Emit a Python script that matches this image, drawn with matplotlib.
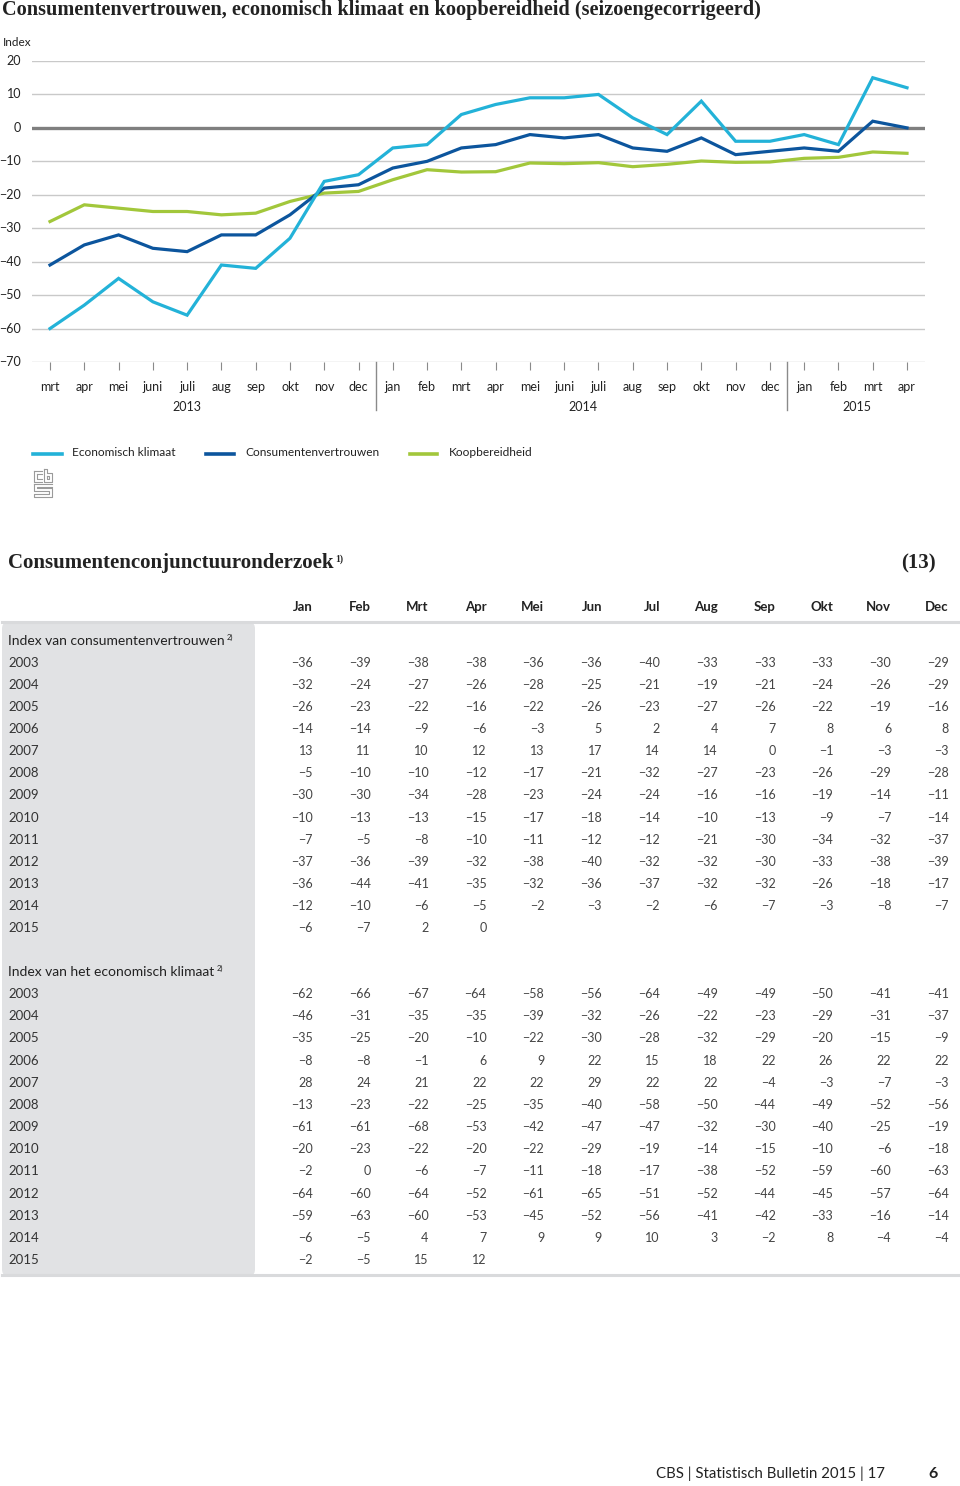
import numpy as np
import matplotlib
matplotlib.use("Agg")
import matplotlib.pyplot as plt
from matplotlib import font_manager
from matplotlib.patches import FancyBboxPatch
from matplotlib.lines import Line2D

# --- data ---------------------------------------------------------------
chart_months = ["mrt", "apr", "mei", "juni", "juli", "aug", "sep", "okt", "nov", "dec",
                "jan", "feb", "mrt", "apr", "mei", "juni", "juli", "aug", "sep", "okt", "nov", "dec",
                "jan", "feb", "mrt", "apr"]
years = ["2013", "2014", "2015"]

table_months = ["Jan", "Feb", "Mrt", "Apr", "Mei", "Jun", "Jul", "Aug", "Sep", "Okt", "Nov", "Dec"]
table_years = [str(y) for y in range(2003, 2016)]

cv_table = [
    [-36, -39, -38, -38, -36, -36, -40, -33, -33, -33, -30, -29],
    [-32, -24, -27, -26, -28, -25, -21, -19, -21, -24, -26, -29],
    [-26, -23, -22, -16, -22, -26, -23, -27, -26, -22, -19, -16],
    [-14, -14, -9, -6, -3, 5, 2, 4, 7, 8, 6, 8],
    [13, 11, 10, 12, 13, 17, 14, 14, 0, -1, -3, -3],
    [-5, -10, -10, -12, -17, -21, -32, -27, -23, -26, -29, -28],
    [-30, -30, -34, -28, -23, -24, -24, -16, -16, -19, -14, -11],
    [-10, -13, -13, -15, -17, -18, -14, -10, -13, -9, -7, -14],
    [-7, -5, -8, -10, -11, -12, -12, -21, -30, -34, -32, -37],
    [-37, -36, -39, -32, -38, -40, -32, -32, -30, -33, -38, -39],
    [-36, -44, -41, -35, -32, -36, -37, -32, -32, -26, -18, -17],
    [-12, -10, -6, -5, -2, -3, -2, -6, -7, -3, -8, -7],
    [-6, -7, 2, 0],
]

ek_table = [
    [-62, -66, -67, -64, -58, -56, -64, -49, -49, -50, -41, -41],
    [-46, -31, -35, -35, -39, -32, -26, -22, -23, -29, -31, -37],
    [-35, -25, -20, -10, -22, -30, -28, -32, -29, -20, -15, -9],
    [-8, -8, -1, 6, 9, 22, 15, 18, 22, 26, 22, 22],
    [28, 24, 21, 22, 22, 29, 22, 22, -4, -3, -7, -3],
    [-13, -23, -22, -25, -35, -40, -58, -50, -44, -49, -52, -56],
    [-61, -61, -68, -53, -42, -47, -47, -32, -30, -40, -25, -19],
    [-20, -23, -22, -20, -22, -29, -19, -14, -15, -10, -6, -18],
    [-2, 0, -6, -7, -11, -18, -17, -38, -52, -59, -60, -63],
    [-64, -60, -64, -52, -61, -65, -51, -52, -44, -45, -57, -64],
    [-59, -63, -60, -53, -45, -52, -56, -41, -42, -33, -16, -14],
    [-6, -5, 4, 7, 9, 9, 10, 3, -2, 8, -4, -4],
    [-2, -5, 15, 12],
]

# koopbereidheid is not in the table (mrt 2013 - apr 2015)
koopbereidheid = [-28, -23, -24, -25, -25, -26, -25.5, -22, -19.5, -19,
                  -15.5, -12.5, -13.2, -13.1, -10.5, -10.7, -10.4, -11.6, -10.9, -9.9, -10.3, -10.2,
                  -9.1, -8.8, -7.2, -7.6]

# chart series: mrt 2013 .. apr 2015 from the table rows 2013-2015
economisch_klimaat = ek_table[10][2:] + ek_table[11] + ek_table[12]
consumentenvertrouwen = cv_table[10][2:] + cv_table[11] + cv_table[12]

# --- fonts --------------------------------------------------------------
available = {f.name for f in font_manager.fontManager.ttflist}


def pick(*names):
    for n in names:
        if n in available:
            return n
    return "DejaVu Sans"


SANS = [pick("Lato", "Open Sans"), "DejaVu Sans"]
NARROW = [pick("Liberation Sans Narrow", "Lato"), "DejaVu Sans"]
SERIF = [pick("Liberation Serif", "DejaVu Serif"), "DejaVu Serif"]
plt.rcParams["font.family"] = SANS

W, H = 960, 1486


def fx(px):
    return px / W


def fy(py):
    return 1 - py / H


def minus(v):
    return str(v).replace("-", "\u2212")


fig = plt.figure(figsize=(9.6, 14.86), dpi=100)
renderer = fig.canvas.get_renderer()


def sup_after(t, s, size, dy_px, gap_px=2, **kw):
    # put a small superscript right after an existing text object
    bb = t.get_window_extent(renderer=renderer)
    fig.text((bb.x1 + gap_px) / W, fy(dy_px), s, fontsize=size, ha="left", va="center", **kw)


c_light = "#23b2d8"
c_dark = "#0c559d"
c_green = "#a2c73b"
grid_c = "#c9c9c9"
txt = "#222222"

# --- title ---------------------------------------------------------------
fig.text(fx(2), fy(10), "Consumentenvertrouwen, economisch klimaat en koopbereidheid (seizoengecorrigeerd)",
         family=SERIF, weight="bold", fontsize=14.6, va="center", ha="left", color=txt)

# --- line chart ----------------------------------------------------------
left, right, top, bottom = 32, 925, 61, 362
ax = fig.add_axes([fx(left), fy(bottom), fx(right - left), (bottom - top) / H])
x = np.arange(len(chart_months))
step = (907 - 50) / (len(chart_months) - 1)
x0 = -(50 - left) / step
ax.set_xlim(x0, x0 + (right - left) / step)
ax.set_ylim(-70, 20)

for yv in range(-70, 21, 10):
    if yv == 0:
        continue
    ax.axhline(yv, color=grid_c, lw=1.0, zorder=1)
ax.axhline(0, color="#7f7f7f", lw=2.4, zorder=2)

ax.plot(x, koopbereidheid, color=c_green, lw=2.3, zorder=3, solid_joinstyle="miter")
ax.plot(x, consumentenvertrouwen, color=c_dark, lw=2.3, zorder=4, solid_joinstyle="miter")
ax.plot(x, economisch_klimaat, color=c_light, lw=2.3, zorder=5, solid_joinstyle="miter")

for s in ax.spines.values():
    s.set_visible(False)
ax.set_yticks([])
ax.set_xticks(x)
ax.set_xticklabels([])
ax.tick_params(axis="x", length=6, width=0.8, color="#8a8a8a", direction="out")

for yv in range(-70, 21, 10):
    ax.text(x0 - 11 / step, yv, minus(yv), ha="right", va="center", fontsize=9, color=txt)
fig.text(fx(3), fy(43), "Index", fontsize=8.5, ha="left", va="center", color=txt)

u = 90 / (bottom - top)  # data units per pixel
for i, m in enumerate(chart_months):
    ax.text(i, -70 - (387 - bottom) * u, m, ha="center", va="center", fontsize=9, color=txt, clip_on=False)
for xi, yr in zip([4, 15.55, 23.55], years):
    ax.text(xi, -70 - (407 - bottom) * u, yr, ha="center", va="center", fontsize=9, color=txt, clip_on=False)
for xs in [9.51, 21.5]:
    ax.plot([xs, xs], [-70, -70 - (410 - bottom) * u], color="#8a8a8a", lw=1.0, clip_on=False)

# --- legend ---------------------------------------------------------------
for (x1, x2, tx), col, lab in zip([(33, 62, 72), (206, 234, 245), (410, 437, 449)],
                                   [c_light, c_dark, c_green],
                                   ["Economisch klimaat", "Consumentenvertrouwen", "Koopbereidheid"]):
    fig.add_artist(Line2D([fx(x1), fx(x2)], [fy(454), fy(454)], color=col, lw=2.6))
    fig.text(fx(tx), fy(452), lab, fontsize=8.6, va="center", ha="left", color=txt)

# cbs logo (rough outline)
lg = "#9a9a9a"
segs = [
    [(34, 471), (34, 482), (42, 482)], [(34, 471), (42, 471)], [(37, 474), (37, 479), (42, 479)],
    [(37, 474), (42, 474)],
    [(44, 469), (44, 482), (52, 482), (52, 473), (47, 473), (47, 469), (44, 469)],
    [(47, 476), (49, 476), (49, 479), (47, 479), (47, 476)],
    [(34, 484), (52, 484)], [(34, 484), (34, 491), (49, 491), (49, 494), (34, 494), (34, 497), (52, 497),
                             (52, 488), (37, 488), (37, 487), (52, 487)],
]
for sg in segs:
    fig.add_artist(Line2D([fx(p[0]) for p in sg], [fy(p[1]) for p in sg], color=lg, lw=0.8))

# --- table ----------------------------------------------------------------
t_title = fig.text(fx(8), fy(563), "Consumentenconjunctuuronderzoek", family=SERIF, weight="bold",
                   fontsize=15, va="center", ha="left", color=txt)
sup_after(t_title, "1)", 7, 559, gap_px=2, family=SERIF, weight="bold", color=txt)
fig.text(fx(936), fy(563), "(13)", family=SERIF, weight="bold", fontsize=15, va="center", ha="right", color=txt)

panel = FancyBboxPatch((fx(2), fy(1275)), fx(253), (1275 - 623) / H,
                       boxstyle="round,pad=0,rounding_size=0.004", transform=fig.transFigure,
                       facecolor="#e1e2e4", edgecolor="none", zorder=0)
fig.add_artist(panel)
fig.add_artist(Line2D([fx(2), fx(958)], [fy(622), fy(622)], color="#d9dadc", lw=2.2))
fig.add_artist(Line2D([fx(2), fx(958)], [fy(1275), fy(1275)], color="#d9dadc", lw=2.2))

col_x = [313 + i * (949 - 313) / 11 for i in range(12)]
for cx, m in zip(col_x, table_months):
    fig.text(fx(cx), fy(607), m, family=NARROW, weight="bold", fontsize=9.5, ha="right", va="center",
             color=txt)


def section(title, rows, y_head, y_first, step_y):
    th = fig.text(fx(8), fy(y_head), title, fontsize=10, ha="left", va="center", color=txt)
    sup_after(th, "2)", 5.5, y_head - 4, gap_px=2, color=txt)
    for k, (yr, vals) in enumerate(zip(table_years, rows)):
        yy = y_first + k * step_y
        fig.text(fx(8), fy(yy), yr, family=NARROW, fontsize=9.5, ha="left", va="center", color="#333333")
        for cx, v in zip(col_x, vals):
            fig.text(fx(cx), fy(yy), minus(v), family=NARROW, fontsize=9, ha="right", va="center",
                     color="#444444")


section("Index van consumentenvertrouwen", cv_table, 641, 663, 22.08)
section("Index van het economisch klimaat", ek_table, 972, 994, 22.17)

# --- footer ------------------------------------------------------------------
fig.text(fx(885), fy(1474), "CBS | Statistisch Bulletin 2015 | 17", fontsize=10.8, ha="right", va="center",
         color=txt)
fig.text(fx(938), fy(1474), "6", fontsize=11.5, weight="bold", ha="right", va="center", color=txt)

fig.savefig("out.png", dpi=100)
